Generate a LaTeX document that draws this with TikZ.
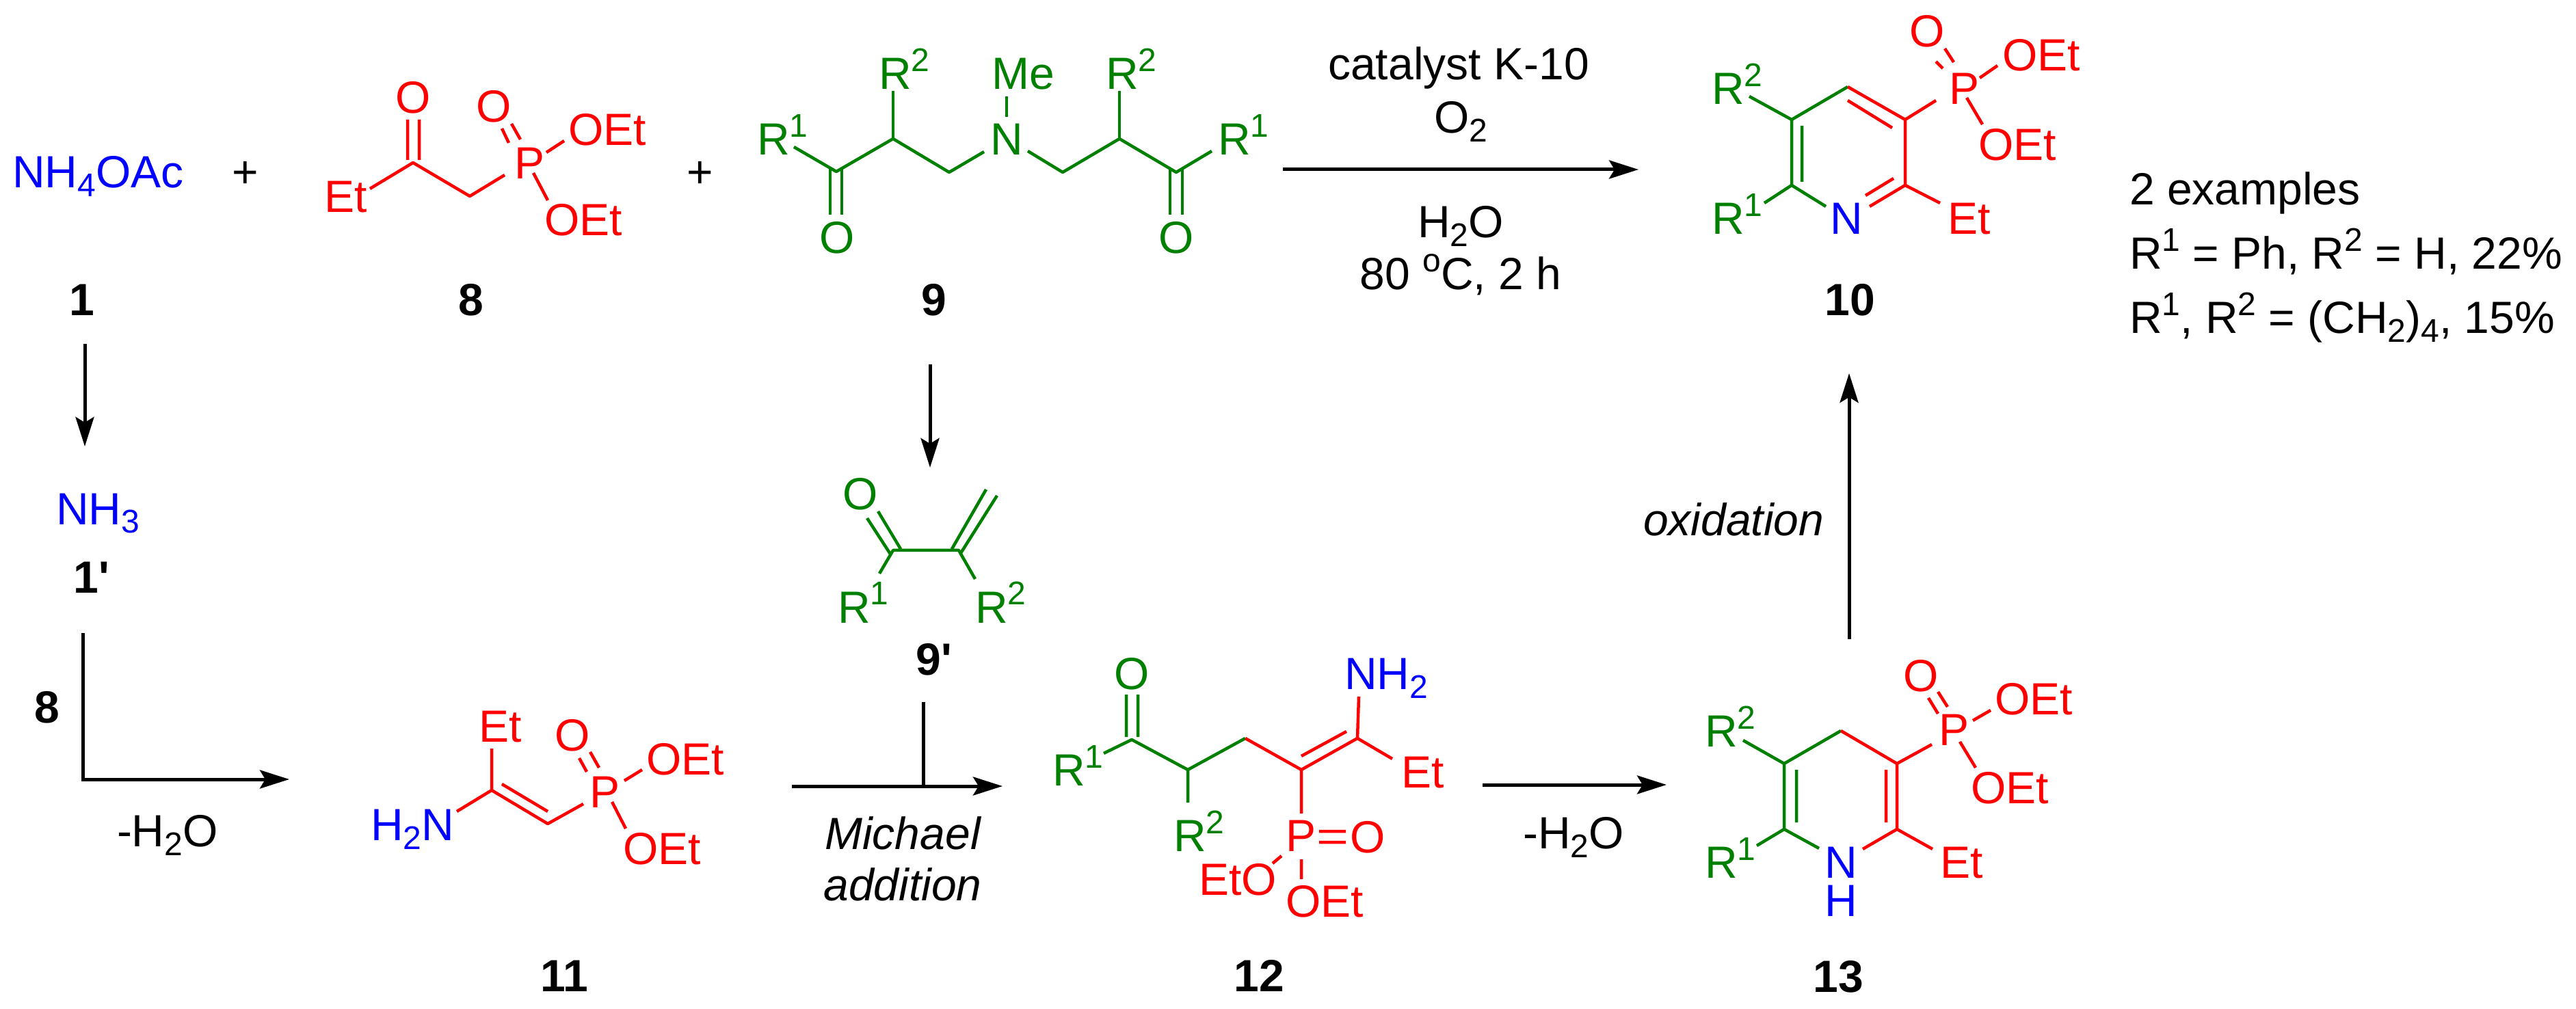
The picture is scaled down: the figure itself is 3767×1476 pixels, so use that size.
\documentclass[tikz,border=0pt]{standalone}
\usepackage{fontspec}
\setmainfont{Liberation Sans}
\usetikzlibrary{arrows.meta}
\definecolor{chemgreen}{RGB}{0,128,0}
\newcommand{\sbs}[1]{\raisebox{-2.6pt}{\fontsize{9.6}{10}\selectfont #1}}
\newcommand{\spr}[1]{\raisebox{5.2pt}{\fontsize{9.6}{10}\selectfont #1}}
\tikzset{
  txt/.style={inner sep=0pt,outer sep=0pt,font=\fontsize{13.2}{15}\selectfont},
  lab/.style={txt,anchor=base west},
  mid/.style={txt,anchor=base},
  gt/.style={lab,text=chemgreen}, rt/.style={lab,text=red}, bt/.style={lab,text=blue},
  gm/.style={mid,text=chemgreen}, rm/.style={mid,text=red}, bm/.style={mid,text=blue},
  num/.style={mid,font=\fontsize{13.2}{15}\selectfont\bfseries},
  ital/.style={font=\fontsize{13.2}{15}\selectfont\itshape},
  gb/.style={draw=chemgreen,line width=0.9pt,line join=round},
  rb/.style={draw=red,line width=0.9pt,line join=round},
  arr/.style={draw=black,line width=1pt,-{Stealth[length=8.6pt,width=5.4pt,inset=1.6pt]}},
  plainline/.style={draw=black,line width=1pt}
}
\begin{document}
\begin{tikzpicture}[x=0.2pt,y=-0.2pt]
\useasboundingbox (0,0) rectangle (3767,1476);
% reagents, labels
\node[bt] (nh4) at (18,275) {NH\sbs{4}OAc};
\node[mid] (p1) at (359,275) {+};
\node[mid] (p2) at (1024,275) {+};
\node[num] (n1) at (120,462) {1};
\node[num] (n8) at (689,462) {8};
\node[num] (n9) at (1366,462) {9};
\node[num] (n10) at (2705,462) {10};
\node[num] (n1p) at (134,867) {1\textquotesingle};
\node[num] (n9p) at (1366,987) {9\textquotesingle};
\node[num] (n11) at (825,1450) {11};
\node[num] (n12) at (1841,1450) {12};
\node[num] (n13) at (2688,1451) {13};
\node[bt] (nh3) at (82,767) {NH\sbs{3}};
% compound 8
\node[rt] (e8) at (474,311) {Et};
\node[rm] (o8a) at (604,166) {O};
\node[rm] (o8b) at (722,179) {O};
\node[rt] (p8) at (752,262) {P};
\node[rt] (oe8a) at (831,213) {OEt};
\node[rt] (oe8b) at (796,345) {OEt};
\foreach \n/\x/\y in {h1/541/276,h2/604/238,h3/687/287,h4/738/256,h5/596/175,h6/596/234,h7/613/175,h8/613/234,h9/734/188,h10/744/209,h11/748/181,h12/761/204,h13/799/223,h14/825/206,h15/780/253,h16/801/293}
  \coordinate (\n) at (\x,\y);
\draw[rb] (h1)--(h2)--(h3)--(h4);
\draw[rb] (h5)--(h6) (h7)--(h8) (h9)--(h10) (h11)--(h12) (h13)--(h14) (h15)--(h16);
% compound 9
\node[gt] (r1a) at (1107,227) {R\spr{1}};
\node[gt] (r2a) at (1285,131) {R\spr{2}};
\node[gt] (me) at (1450,131) {Me};
\node[gm] (n9a) at (1472,227) {N};
\node[gt] (r2b) at (1617,131) {R\spr{2}};
\node[gt] (r1b) at (1781,227) {R\spr{1}};
\node[gm] (o9a) at (1224,371) {O};
\node[gm] (o9b) at (1720,371) {O};
\foreach \n/\x/\y in {i1/1161/215,i2/1223/251,i3/1306/203,i4/1388/252,i5/1439/222,i6/1503/221,i7/1554/252,i8/1637/203,i9/1720/252,i10/1772/221,i11/1306/133,i12/1637/133,i13/1472/141,i14/1472/171,i15/1214/246,i16/1214/314,i17/1231/246,i18/1231/314,i19/1711/246,i20/1711/314,i21/1729/246,i22/1729/314}
  \coordinate (\n) at (\x,\y);
\draw[gb] (i1)--(i2)--(i3)--(i4)--(i5) (i6)--(i7)--(i8)--(i9)--(i10);
\draw[gb] (i3)--(i11) (i8)--(i12) (i13)--(i14) (i15)--(i16) (i17)--(i18) (i19)--(i20) (i21)--(i22);
% main arrow and conditions
\coordinate (ma1) at (1876,248); \coordinate (ma2) at (2396,248);
\draw[arr] (ma1)--(ma2);
\node[mid] (c1) at (2133,117) {catalyst K-10};
\node[mid] (c2) at (2136,195) {O\sbs{2}};
\node[mid] (c3) at (2136,348) {H\sbs{2}O};
\node[mid] (c4) at (2136,424) {80 \spr{o}C, 2 h};
% compound 10
\node[gt] (r2c) at (2503,153) {R\spr{2}};
\node[gt] (r1c) at (2503,343) {R\spr{1}};
\node[bm] (n10a) at (2700,343) {N};
\node[rt] (e10) at (2848,343) {Et};
\node[rt] (p10) at (2850,153) {P};
\node[rm] (o10) at (2818,69) {O};
\node[rt] (oe10a) at (2928,104) {OEt};
\node[rt] (oe10b) at (2893,235) {OEt};
\foreach \n/\x/\y in {j1/2558/141,j2/2620/175,j3/2702/127,j4/2786/175,j5/2786/271,j6/2620/271,j7/2580/297,j8/2670/302,j9/2734/302,j10/2837/297,j11/2702/147,j12/2767/187,j13/2635/184,j14/2635/266,j15/2728/286,j16/2769/261,j17/2831/147,j18/2831/90,j19/2841/100,j20/2844/71,j21/2857/91,j22/2895/114,j23/2921/96,j24/2876/143,j25/2899/182}
  \coordinate (\n) at (\x,\y);
\draw[gb] (j1)--(j2)--(j3) (j2)--(j6) (j7)--(j6)--(j8) (j13)--(j14);
\draw[rb] (j3)--(j4)--(j5)--(j9) (j5)--(j10) (j11)--(j12) (j15)--(j16) (j4)--(j17) (j18)--(j19) (j20)--(j21) (j22)--(j23) (j24)--(j25);
% side text
\node[lab] (ex1) at (3114,300) {2 examples};
\node[lab] (ex2) at (3114,394) {R\spr{1} = Ph, R\spr{2} = H, 22\%};
\node[lab] (ex3) at (3114,488) {R\spr{1}, R\spr{2} = (CH\sbs{2})\sbs{4}, 15\%};
% left column arrows
\coordinate (k1) at (124,503); \coordinate (k2) at (124,653);
\draw[arr] (k1)--(k2);
\node[num] (n8l) at (69,1057) {8};
\coordinate (k3) at (121,926); \coordinate (k4) at (121,1140); \coordinate (k5) at (423,1140);
\draw[arr] (k3)--(k4)--(k5);
\node[lab] (w1) at (171,1238) {-H\sbs{2}O};
% compound 11
\node[rt] (e11) at (700,1085) {Et};
\node[bt] (nh11) at (542,1229) {H\sbs{2}N};
\node[rm] (p11) at (884,1181) {P};
\node[rm] (o11) at (837,1098) {O};
\node[rt] (oe11a) at (945,1133) {OEt};
\node[rt] (oe11b) at (911,1264) {OEt};
\foreach \n/\x/\y in {l1/719/1095,l2/719/1156,l3/668/1187,l4/801/1205,l5/853/1176,l6/734/1147,l7/801/1187,l8/847/1109,l9/858/1129,l10/863/1100,l11/876/1123,l12/913/1142,l13/939/1126,l14/895/1173,l15/915/1212}
  \coordinate (\n) at (\x,\y);
\draw[rb] (l1)--(l2)--(l3) (l2)--(l4)--(l5) (l6)--(l7) (l8)--(l9) (l10)--(l11) (l12)--(l13) (l14)--(l15);
% 9 -> 9'
\coordinate (m1) at (1360,533); \coordinate (m2) at (1360,684);
\draw[arr] (m1)--(m2);
\node[gm] (o9p) at (1258,746) {O};
\node[gt] (r19p) at (1225,911) {R\spr{1}};
\node[gt] (r29p) at (1426,911) {R\spr{2}};
\foreach \n/\x/\y in {q1/1306/805,q2/1402/805,q3/1268/758,q4/1303/812,q5/1284/748,q6/1317/803,q7/1392/803,q8/1442/716,q9/1405/809,q10/1458/725,q11/1286/839,q12/1426/847}
  \coordinate (\n) at (\x,\y);
\draw[gb] (q11)--(q1)--(q2)--(q12) (q3)--(q4) (q5)--(q6) (q7)--(q8) (q9)--(q10);
% Michael arrow
\coordinate (t1) at (1158,1150); \coordinate (t2) at (1466,1150); \coordinate (t3) at (1350,1027); \coordinate (t4) at (1350,1150);
\draw[arr] (t1)--(t2);
\draw[plainline] (t3)--(t4);
\node[mid,ital] (mi1) at (1320,1242) {Michael};
\node[mid,ital] (mi2) at (1320,1317) {addition};
% compound 12
\node[gm] (o12) at (1655,1008) {O};
\node[gt] (r112) at (1539,1149) {R\spr{1}};
\node[gt] (r212) at (1716,1245) {R\spr{2}};
\node[bt] (nh12) at (1966,1008) {NH\sbs{2}};
\node[rt] (e12) at (2049,1152) {Et};
\node[rm] (p12) at (1902,1245) {P};
\node[rm] (o12b) at (2000,1247) {O};
\node[rt] (eo12) at (1753,1309) {EtO};
\node[rt] (oe12) at (1880,1341) {OEt};
\foreach \n/\x/\y in {s1/1614/1102,s2/1655/1082,s3/1737/1126,s4/1821/1080,s5/1903/1126,s6/1985/1080,s7/2036/1110,s8/1987/1019,s9/1903/1106,s10/1969/1070,s11/1737/1174,s12/1903/1190,s13/1647/1016,s14/1647/1078,s15/1664/1016,s16/1664/1078,s17/1929/1216,s18/1968/1216,s19/1929/1232,s20/1968/1232,s21/1861/1263,s22/1874/1252,s23/1903/1257,s24/1903/1286}
  \coordinate (\n) at (\x,\y);
\draw[gb] (s1)--(s2)--(s3)--(s4) (s3)--(s11) (s13)--(s14) (s15)--(s16);
\draw[rb] (s4)--(s5)--(s6)--(s7) (s6)--(s8) (s9)--(s10) (s5)--(s12) (s17)--(s18) (s19)--(s20) (s21)--(s22) (s23)--(s24);
% 12 -> 13
\coordinate (u1) at (2168,1148); \coordinate (u2) at (2437,1148);
\draw[arr] (u1)--(u2);
\node[lab] (w2) at (2227,1241) {-H\sbs{2}O};
% 13 -> 10
\coordinate (v1) at (2704,935); \coordinate (v2) at (2704,546);
\draw[arr] (v1)--(v2);
\node[lab,ital] (ox) at (2403,783) {oxidation};
% compound 13
\node[gt] (r213) at (2493,1092) {R\spr{2}};
\node[gt] (r113) at (2493,1284) {R\spr{1}};
\node[bm] (n13a) at (2692,1284) {N};
\node[bm] (h13a) at (2692,1340) {H};
\node[rt] (e13) at (2837,1284) {Et};
\node[rm] (p13) at (2857,1090) {P};
\node[rm] (o13) at (2809,1011) {O};
\node[rt] (oe13a) at (2917,1045) {OEt};
\node[rt] (oe13b) at (2882,1175) {OEt};
\foreach \n/\x/\y in {w1c/2549/1083,w2c/2609/1117,w3c/2692/1069,w4c/2774/1117,w5c/2774/1213,w6c/2609/1213,w7c/2569/1237,w8c/2660/1241,w9c/2724/1242,w10c/2826/1242,w11c/2825/1089,w12c/2627/1126,w13c/2627/1203,w14c/2758/1126,w15c/2758/1203,w16c/2820/1021,w17c/2834/1044,w18c/2834/1012,w19c/2848/1034,w20c/2885/1054,w21c/2911/1039,w22c/2866/1085,w23c/2889/1123}
  \coordinate (\n) at (\x,\y);
\draw[gb] (w1c)--(w2c)--(w3c) (w2c)--(w6c) (w7c)--(w6c)--(w8c) (w12c)--(w13c);
\draw[rb] (w3c)--(w4c)--(w5c)--(w9c) (w5c)--(w10c) (w4c)--(w11c) (w14c)--(w15c) (w16c)--(w17c) (w18c)--(w19c) (w20c)--(w21c) (w22c)--(w23c);
\end{tikzpicture}
\end{document}
